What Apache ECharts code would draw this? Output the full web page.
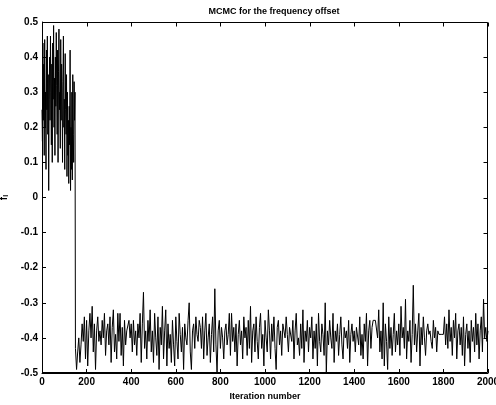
<!DOCTYPE html>
<html><head><meta charset="utf-8">
<script src="https://cdn.jsdelivr.net/npm/echarts@6/dist/echarts.min.js"></script>
<style>html,body{margin:0;padding:0;background:#fff}#c{width:496px;height:405px}</style>
</head><body><div id="c"></div>
<script>
// Burn-in segment: iterations 0,2,4,...,148
const burnStep = 2;
const burnIn = [0.25,0.16,0.44,0.22,0.38,0.12,0.45,0.2,0.30,0.08,
0.42,0.25,0.46,0.18,0.35,0.02,0.28,0.40,0.22,0.46,
0.30,0.15,0.38,0.10,0.44,0.28,0.49,0.20,0.34,0.12,
0.40,0.26,0.47,0.32,0.18,0.42,0.10,0.36,0.48,0.25,
0.30,0.14,0.45,0.22,0.38,0.30,0.10,0.33,0.46,0.20,
0.28,0.08,0.41,0.25,0.18,0.35,0.06,0.30,0.12,0.22,
0.04,0.26,0.15,0.42,0.02,0.20,0.08,0.30,0.05,0.35,
0.18,0.10,0.33,0.22,0.30];
// Converged segment: iterations 150,155,...,2000
const chainStart = 150;
const chainStep = 5;
const chain = [
-0.43,-0.49,-0.44,-0.40,-0.47,-0.42,-0.36,-0.41,-0.34,-0.46,
-0.35,-0.48,-0.38,-0.33,-0.40,-0.31,-0.44,-0.36,-0.49,-0.38,
-0.34,-0.41,-0.38,-0.42,-0.35,-0.40,-0.33,-0.45,-0.38,-0.36,
-0.42,-0.34,-0.47,-0.37,-0.32,-0.44,-0.39,-0.46,-0.33,-0.41,
-0.33,-0.45,-0.37,-0.48,-0.35,-0.42,-0.38,-0.38,-0.35,-0.40,
-0.36,-0.44,-0.35,-0.42,-0.38,-0.45,-0.36,-0.40,-0.33,-0.47,
-0.36,-0.27,-0.43,-0.38,-0.46,-0.35,-0.41,-0.32,-0.44,-0.38,
-0.47,-0.33,-0.40,-0.45,-0.34,-0.49,-0.37,-0.42,-0.31,-0.46,
-0.38,-0.32,-0.48,-0.36,-0.43,-0.39,-0.47,-0.35,-0.42,-0.48,
-0.34,-0.41,-0.46,-0.33,-0.39,-0.44,-0.37,-0.49,-0.36,-0.40,
-0.42,-0.35,-0.30,-0.44,-0.49,-0.38,-0.36,-0.43,-0.34,-0.39,
-0.41,-0.35,-0.37,-0.43,-0.34,-0.46,-0.38,-0.33,-0.45,-0.40,
-0.36,-0.47,-0.39,-0.34,-0.44,-0.26,-0.42,-0.50,-0.38,-0.35,
-0.43,-0.37,-0.40,-0.46,-0.38,-0.36,-0.42,-0.39,-0.33,-0.45,
-0.33,-0.41,-0.37,-0.44,-0.36,-0.48,-0.39,-0.35,-0.42,-0.38,
-0.46,-0.34,-0.40,-0.37,-0.45,-0.35,-0.43,-0.31,-0.47,-0.38,
-0.36,-0.44,-0.34,-0.41,-0.46,-0.37,-0.33,-0.43,-0.39,-0.48,
-0.35,-0.40,-0.44,-0.32,-0.38,-0.46,-0.36,-0.41,-0.34,-0.43,
-0.49,-0.37,-0.35,-0.42,-0.38,-0.45,-0.36,-0.36,-0.40,-0.34,
-0.39,-0.44,-0.37,-0.37,-0.41,-0.35,-0.46,-0.38,-0.33,-0.42,
-0.40,-0.45,-0.36,-0.43,-0.32,-0.47,-0.38,-0.41,-0.35,-0.44,
-0.37,-0.40,-0.34,-0.46,-0.38,-0.43,-0.36,-0.48,-0.33,-0.41,
-0.44,-0.36,-0.39,-0.45,-0.30,-0.50,-0.38,-0.42,-0.35,-0.40,
-0.43,-0.33,-0.47,-0.38,-0.41,-0.36,-0.45,-0.39,-0.34,-0.42,
-0.46,-0.37,-0.40,-0.38,-0.43,-0.35,-0.47,-0.39,-0.36,-0.41,
-0.38,-0.44,-0.37,-0.37,-0.42,-0.34,-0.45,-0.39,-0.46,-0.36,
-0.41,-0.33,-0.48,-0.38,-0.35,-0.43,-0.37,-0.35,-0.35,-0.35,
-0.35,-0.40,-0.32,-0.44,-0.38,-0.46,-0.30,-0.48,-0.36,-0.41,
-0.49,-0.34,-0.43,-0.37,-0.45,-0.39,-0.33,-0.44,-0.38,-0.42,
-0.36,-0.45,-0.31,-0.40,-0.37,-0.43,-0.29,-0.46,-0.38,-0.41,
-0.35,-0.47,-0.39,-0.25,-0.42,-0.36,-0.44,-0.38,-0.33,-0.48,
-0.37,-0.42,-0.34,-0.40,-0.45,-0.38,-0.36,-0.39,-0.38,-0.41,
-0.43,-0.35,-0.40,-0.37,-0.44,-0.38,-0.39,-0.39,-0.39,-0.39,
-0.39,-0.34,-0.42,-0.36,-0.43,-0.32,-0.41,-0.37,-0.45,-0.35,
-0.40,-0.33,-0.46,-0.38,-0.36,-0.42,-0.37,-0.45,-0.34,-0.48,
-0.39,-0.36,-0.43,-0.38,-0.47,-0.35,-0.41,-0.37,-0.44,-0.33,
-0.42,-0.36,-0.46,-0.38,-0.34,-0.44,-0.29,-0.40,-0.37,-0.41,
-0.38];
const titleText = 'MCMC for the frequency offset';
const xName = 'Iteration number';
const xTicks = [0,200,400,600,800,1000,1200,1400,1600,1800,2000];
const yTicks = [-0.5,-0.4,-0.3,-0.2,-0.1,0,0.1,0.2,0.3,0.4,0.5];

const points = [];
burnIn.forEach((v,i)=>points.push([i*burnStep, v]));
chain.forEach((v,i)=>points.push([chainStart + i*chainStep, v]));

const font = 'Liberation Sans, Arial, sans-serif';
const lab = {color:'#000', fontFamily:font, fontSize:10, fontWeight:'bold'};
const xMin = xTicks[0], xMax = xTicks[xTicks.length-1];
const yMin = yTicks[0], yMax = yTicks[yTicks.length-1];

// Frame (box + mirrored inward ticks) drawn by a custom series through api.coord
function renderFrame(params, api) {
  const tl = api.coord([xMin, yMax]);
  const br = api.coord([xMax, yMin]);
  const L = Math.round(tl[0]) + 0.5, T = Math.round(tl[1]) + 0.5;
  const R = Math.round(br[0]) - 0.5, B = Math.round(br[1]) - 0.5;
  const st = {stroke:'#000', lineWidth:1, fill:'none'};
  const children = [{type:'rect', shape:{x:L, y:T, width:R-L, height:B-T}, style:st}];
  xTicks.forEach(t => {
    const x = Math.round(api.coord([t, yMax])[0]) + 0.5;
    children.push({type:'line', shape:{x1:x, y1:T, x2:x, y2:T+4}, style:st});
  });
  yTicks.forEach(t => {
    const y = Math.round(api.coord([xMax, t])[1]) + 0.5;
    children.push({type:'line', shape:{x1:R, y1:y, x2:R-4, y2:y}, style:st});
  });
  return {type:'group', children:children};
}

const chart = echarts.init(document.getElementById('c'), null, {renderer:'canvas'});
chart.setOption({
  animation:false,
  backgroundColor:'#fff',
  title:{text:titleText, left:269, top:2, textAlign:'center',
    textStyle:{fontFamily:font, fontSize:9, fontWeight:'bold', color:'#000'}},
  grid:{left:42, right:8, top:22, bottom:32, outerBoundsMode:'none'},
  xAxis:{type:'value', min:xMin, max:xMax, interval:200, position:'bottom',
      axisLine:{show:true, onZero:false, lineStyle:{color:'#000', width:1}},
      axisTick:{show:true, inside:true, length:4, lineStyle:{color:'#000'}},
      splitLine:{show:false},
      name:xName, nameLocation:'middle', nameGap:17,
      nameTextStyle:{color:'#000', fontFamily:font, fontSize:9, fontWeight:'bold'},
      axisLabel:Object.assign({margin:4, formatter:v=>String(v)}, lab)},
  yAxis:{type:'value', min:yMin, max:yMax, interval:0.1, position:'left',
      axisLine:{show:true, onZero:false, lineStyle:{color:'#000', width:1}},
      axisTick:{show:true, inside:true, length:4, lineStyle:{color:'#000'}},
      splitLine:{show:false},
      name:'{a|f}{b|I}', nameLocation:'middle', nameGap:24, nameRotate:90,
      nameTextStyle:{rich:{a:{fontFamily:font, fontSize:10, fontWeight:'bold', color:'#000'},
                           b:{fontFamily:font, fontSize:7, fontWeight:'bold', color:'#000', padding:[5,0,0,0]}}},
      axisLabel:Object.assign({margin:4, formatter:v=>String(Math.round(v*10)/10)}, lab)},
  series:[{
    type:'line', data:points,
    showSymbol:false, symbol:'none',
    lineStyle:{color:'#000', width:1}
  },{
    type:'custom', data:[[xMin, yMin]], renderItem:renderFrame,
    clip:false, silent:true, z:10, animation:false
  }]
});
</script></body></html>
